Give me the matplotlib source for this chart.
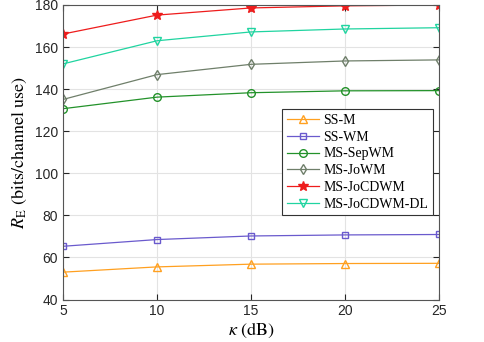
import matplotlib
matplotlib.use("Agg")
import matplotlib.pyplot as plt

kappa = [5, 10, 15, 20, 25]
ss_m = [53.0, 55.5, 56.8, 57.1, 57.2]
ss_wm = [65.3, 68.5, 70.2, 70.7, 70.9]
ms_sepwm = [130.7, 136.2, 138.3, 139.2, 139.3]
ms_jowm = [135.1, 146.9, 151.8, 153.4, 153.9]
ms_jocdwm = [166.2, 175.2, 178.6, 179.6, 180.0]
ms_jocdwm_dl = [152.0, 163.0, 167.2, 168.6, 169.2]

labels = ["SS-M", "SS-WM", "MS-SepWM", "MS-JoWM", "MS-JoCDWM", "MS-JoCDWM-DL"]
series = [ss_m, ss_wm, ms_sepwm, ms_jowm, ms_jocdwm, ms_jocdwm_dl]
colors = ["#FFA020", "#6A5ACD", "#23922A", "#6F7F6A", "#EE1C1C", "#20D4A0"]
markers = ["^", "s", "o", "d", "*", "v"]
msizes = [6, 4.5, 5.5, 5.5, 7, 6]

plt.rcParams['mathtext.fontset'] = 'stix'
fig = plt.figure(figsize=(4.85, 3.42), dpi=100)
ax = fig.add_axes([63/485, 1-299.5/342, (439-63)/485, (299.5-5.0)/342])

for y, lab, c, m, ms in zip(series, labels, colors, markers, msizes):
    ax.plot(kappa, y, color=c, marker=m, markersize=ms, markerfacecolor='none' if m != '*' else c,
            markeredgewidth=1.0, linewidth=0.9, label=lab)

ax.set_xlim(5, 25)
ax.set_ylim(40, 180)
ax.set_xticks([5, 10, 15, 20, 25])
ax.set_yticks(range(40, 181, 20))
ax.grid(True, color='#e3e3e3', linewidth=0.8)
ax.set_axisbelow(True)
ax.tick_params(direction='in', top=True, right=True, labelsize=10, colors='#262626', length=4)
for lbl in ax.get_xticklabels() + ax.get_yticklabels():
    lbl.set_family('Liberation Sans')
for s in ax.spines.values():
    s.set_color('#555555')
    s.set_linewidth(0.8)

ax.set_xlabel(r'$\kappa\ \mathrm{(dB)}$', fontsize=13, labelpad=2)
ax.set_ylabel(r'$R_{\mathrm{E}}\ \mathrm{(bits/channel\ use)}$', fontsize=13, labelpad=4)

leg = ax.legend(loc='upper left', bbox_to_anchor=((281.7-63)/376, (299.5-109)/294.5),
                prop={'family': 'Liberation Serif', 'size': 10}, fancybox=False,
                edgecolor='#333333', framealpha=1, borderpad=0.35, labelspacing=0.27,
                handlelength=2.3, handletextpad=0.35, borderaxespad=0)
leg.get_frame().set_linewidth(0.8)

fig.savefig('out.png', dpi=100)
